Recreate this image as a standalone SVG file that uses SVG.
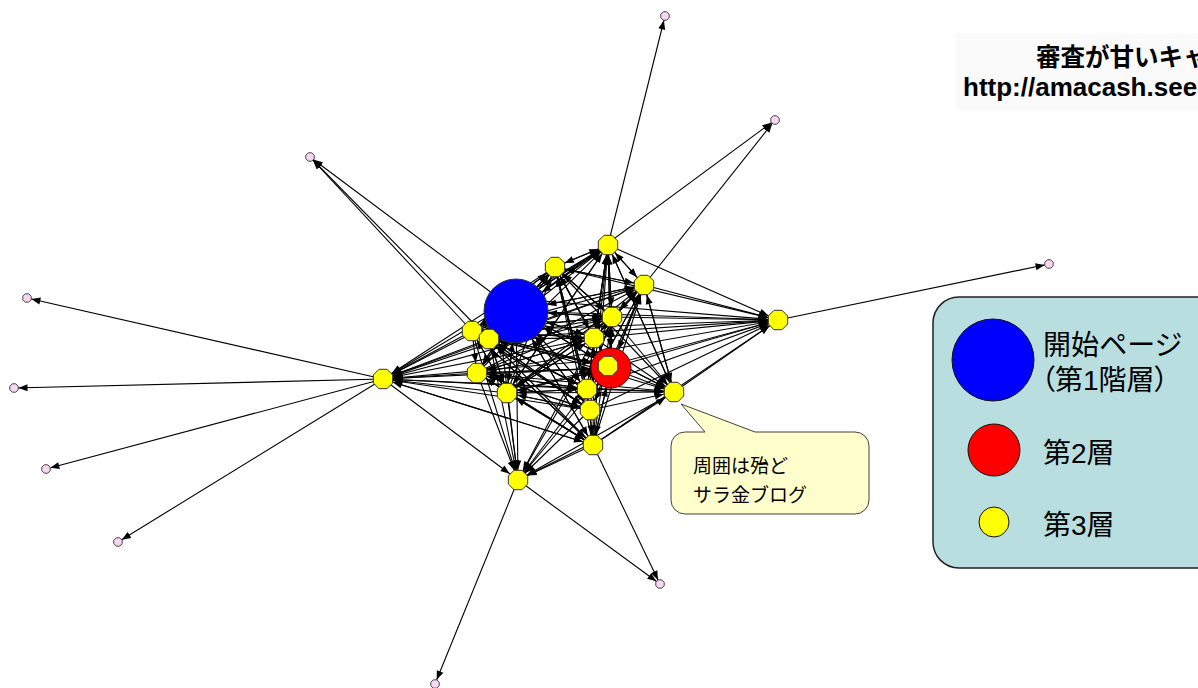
<svg xmlns="http://www.w3.org/2000/svg" width="1198" height="688" viewBox="0 0 1198 688">
<style>
.e line{stroke:#000;stroke-width:1.1}
.tY line{marker-end:url(#aY)}
.tR line{marker-end:url(#aR)}
.tB line{marker-end:url(#aB)}
.tP line{marker-end:url(#aP)}
.yel{fill:#FFFF00;stroke:#333;stroke-width:1}
.pnk{fill:#F6D6F0;stroke:#444;stroke-width:1}
.jp{font-family:"Liberation Sans","Noto Sans CJK JP",sans-serif;fill:#000}
.lg{font-size:28px;font-feature-settings:"palt"}
</style>
<defs>
<polygon id="oct" points="9.7,4 4,9.7 -4,9.7 -9.7,4 -9.7,-4 -4,-9.7 4,-9.7 9.7,-4"/>
<polygon id="poct" points="4.2,1.7 1.7,4.2 -1.7,4.2 -4.2,1.7 -4.2,-1.7 -1.7,-4.2 1.7,-4.2 4.2,-1.7"/>
<marker id="aY" markerUnits="userSpaceOnUse" markerWidth="1" markerHeight="1" orient="auto" overflow="visible"><path d="M-10.5,0 L-19.5,-3.5 L-19.5,3.5 Z" fill="#000"/></marker>
<marker id="aR" markerUnits="userSpaceOnUse" markerWidth="1" markerHeight="1" orient="auto" overflow="visible"><path d="M-20,0 L-29,-3.5 L-29,3.5 Z" fill="#000"/></marker>
<marker id="aB" markerUnits="userSpaceOnUse" markerWidth="1" markerHeight="1" orient="auto" overflow="visible"><path d="M-32,0 L-41,-3.5 L-41,3.5 Z" fill="#000"/></marker>
<marker id="aP" markerUnits="userSpaceOnUse" markerWidth="1" markerHeight="1" orient="auto" overflow="visible"><path d="M-4.5,0 L-13.5,-3.5 L-13.5,3.5 Z" fill="#000"/></marker>
</defs>
<rect width="1198" height="688" fill="#fff"/>
<rect x="956" y="33" width="242" height="77" fill="#fafafa"/>
<g id="title">
<text class="jp" x="1036" y="66" font-size="24.5" font-weight="bold">審査が甘いキャ</text>
<text class="jp" x="963" y="96" font-size="26" font-weight="bold">http://amacash.see</text>
</g>
<g id="connectors" class="e">
<g class="tY">
<!-- into Y10 -->
<line x1="472" y1="331" x2="383" y2="379"/><line x1="489" y1="339" x2="383" y2="379"/><line x1="516" y1="311" x2="383" y2="379"/><line x1="477" y1="373" x2="383" y2="379"/><line x1="507" y1="393" x2="383" y2="379"/><line x1="594" y1="338" x2="383" y2="379"/><line x1="587" y1="389" x2="383" y2="379"/><line x1="590" y1="410" x2="383" y2="379"/><line x1="593" y1="445" x2="383" y2="379"/><line x1="611" y1="368" x2="383" y2="379"/><line x1="612" y1="317" x2="383" y2="379"/><line x1="555" y1="267" x2="383" y2="379"/><line x1="608" y1="245" x2="383" y2="379"/><line x1="644" y1="285" x2="383" y2="379"/><line x1="530" y1="330" x2="383" y2="379"/><line x1="600" y1="360" x2="383" y2="379"/>
<!-- into Y4 -->
<line x1="608" y1="245" x2="778" y2="320"/><line x1="644" y1="285" x2="778" y2="320"/><line x1="516" y1="311" x2="778" y2="320"/><line x1="612" y1="317" x2="778" y2="320"/><line x1="594" y1="338" x2="778" y2="320"/><line x1="611" y1="368" x2="778" y2="320"/><line x1="472" y1="331" x2="778" y2="320"/><line x1="489" y1="339" x2="778" y2="320"/><line x1="477" y1="373" x2="778" y2="320"/><line x1="507" y1="393" x2="778" y2="320"/><line x1="587" y1="389" x2="778" y2="320"/><line x1="590" y1="410" x2="778" y2="320"/><line x1="593" y1="445" x2="778" y2="320"/><line x1="674" y1="392" x2="778" y2="320"/><line x1="555" y1="267" x2="778" y2="320"/><line x1="530" y1="300" x2="778" y2="320"/>
<!-- into Y16 -->
<line x1="608" y1="245" x2="674" y2="392"/><line x1="644" y1="285" x2="674" y2="392"/><line x1="516" y1="311" x2="674" y2="392"/><line x1="612" y1="317" x2="674" y2="392"/><line x1="594" y1="338" x2="674" y2="392"/><line x1="611" y1="368" x2="674" y2="392"/><line x1="472" y1="331" x2="674" y2="392"/><line x1="477" y1="373" x2="674" y2="392"/><line x1="507" y1="393" x2="674" y2="392"/><line x1="587" y1="389" x2="674" y2="392"/><line x1="590" y1="410" x2="674" y2="392"/><line x1="593" y1="445" x2="674" y2="392"/><line x1="555" y1="267" x2="674" y2="392"/><line x1="383" y1="379" x2="674" y2="392"/>
<!-- into Y17 -->
<line x1="472" y1="331" x2="518" y2="480"/><line x1="489" y1="339" x2="518" y2="480"/><line x1="477" y1="373" x2="518" y2="480"/><line x1="507" y1="393" x2="518" y2="480"/><line x1="516" y1="311" x2="518" y2="480"/><line x1="587" y1="389" x2="518" y2="480"/><line x1="590" y1="410" x2="518" y2="480"/><line x1="593" y1="445" x2="518" y2="480"/><line x1="594" y1="338" x2="518" y2="480"/><line x1="611" y1="368" x2="518" y2="480"/><line x1="383" y1="379" x2="518" y2="480"/><line x1="612" y1="317" x2="518" y2="480"/><line x1="674" y1="392" x2="518" y2="480"/><line x1="500" y1="330" x2="518" y2="480"/><line x1="598" y1="440" x2="518" y2="480"/>
<!-- into Y1 -->
<line x1="516" y1="311" x2="608" y2="245"/><line x1="611" y1="368" x2="608" y2="245"/><line x1="555" y1="267" x2="608" y2="245"/><line x1="644" y1="285" x2="608" y2="245"/><line x1="612" y1="317" x2="608" y2="245"/><line x1="472" y1="331" x2="608" y2="245"/><line x1="489" y1="339" x2="608" y2="245"/><line x1="594" y1="338" x2="608" y2="245"/><line x1="477" y1="373" x2="608" y2="245"/><line x1="507" y1="393" x2="608" y2="245"/><line x1="587" y1="389" x2="608" y2="245"/><line x1="590" y1="410" x2="608" y2="245"/><line x1="593" y1="445" x2="608" y2="245"/><line x1="674" y1="392" x2="608" y2="245"/>
<!-- into Y2 -->
<line x1="516" y1="311" x2="555" y2="267"/><line x1="611" y1="368" x2="555" y2="267"/><line x1="608" y1="245" x2="555" y2="267"/><line x1="612" y1="317" x2="555" y2="267"/><line x1="472" y1="331" x2="555" y2="267"/><line x1="594" y1="338" x2="555" y2="267"/><line x1="507" y1="393" x2="555" y2="267"/><line x1="587" y1="389" x2="555" y2="267"/><line x1="590" y1="410" x2="555" y2="267"/><line x1="593" y1="445" x2="555" y2="267"/><line x1="489" y1="339" x2="555" y2="267"/><line x1="477" y1="373" x2="555" y2="267"/><line x1="644" y1="285" x2="555" y2="267"/>
<!-- into Y3 -->
<line x1="516" y1="311" x2="644" y2="285"/><line x1="611" y1="368" x2="644" y2="285"/><line x1="608" y1="245" x2="644" y2="285"/><line x1="555" y1="267" x2="644" y2="285"/><line x1="612" y1="317" x2="644" y2="285"/><line x1="472" y1="331" x2="644" y2="285"/><line x1="489" y1="339" x2="644" y2="285"/><line x1="594" y1="338" x2="644" y2="285"/><line x1="477" y1="373" x2="644" y2="285"/><line x1="507" y1="393" x2="644" y2="285"/><line x1="587" y1="389" x2="644" y2="285"/><line x1="590" y1="410" x2="644" y2="285"/><line x1="593" y1="445" x2="644" y2="285"/><line x1="674" y1="392" x2="644" y2="285"/>
<!-- into Y5 -->
<line x1="516" y1="311" x2="612" y2="317"/><line x1="611" y1="368" x2="612" y2="317"/><line x1="644" y1="285" x2="612" y2="317"/><line x1="489" y1="339" x2="612" y2="317"/><line x1="477" y1="373" x2="612" y2="317"/><line x1="608" y1="245" x2="612" y2="317"/><line x1="555" y1="267" x2="612" y2="317"/><line x1="472" y1="331" x2="612" y2="317"/><line x1="507" y1="393" x2="612" y2="317"/><line x1="587" y1="389" x2="612" y2="317"/><line x1="593" y1="445" x2="612" y2="317"/>
<!-- into Y6 -->
<line x1="516" y1="311" x2="472" y2="331"/><line x1="611" y1="368" x2="472" y2="331"/><line x1="608" y1="245" x2="472" y2="331"/><line x1="612" y1="317" x2="472" y2="331"/><line x1="594" y1="338" x2="472" y2="331"/><line x1="587" y1="389" x2="472" y2="331"/><line x1="590" y1="410" x2="472" y2="331"/><line x1="593" y1="445" x2="472" y2="331"/><line x1="507" y1="393" x2="472" y2="331"/><line x1="555" y1="267" x2="472" y2="331"/>
<!-- into Y7 -->
<line x1="516" y1="311" x2="489" y2="339"/><line x1="611" y1="368" x2="489" y2="339"/><line x1="555" y1="267" x2="489" y2="339"/><line x1="590" y1="410" x2="489" y2="339"/><line x1="593" y1="445" x2="489" y2="339"/><line x1="594" y1="338" x2="489" y2="339"/><line x1="587" y1="389" x2="489" y2="339"/><line x1="507" y1="393" x2="489" y2="339"/>
<!-- into Y8 -->
<line x1="516" y1="311" x2="594" y2="338"/><line x1="611" y1="368" x2="594" y2="338"/><line x1="555" y1="267" x2="594" y2="338"/><line x1="644" y1="285" x2="594" y2="338"/><line x1="472" y1="331" x2="594" y2="338"/><line x1="489" y1="339" x2="594" y2="338"/><line x1="477" y1="373" x2="594" y2="338"/><line x1="507" y1="393" x2="594" y2="338"/><line x1="593" y1="445" x2="594" y2="338"/>
<!-- into Y11 -->
<line x1="516" y1="311" x2="477" y2="373"/><line x1="611" y1="368" x2="477" y2="373"/><line x1="472" y1="331" x2="477" y2="373"/><line x1="587" y1="389" x2="477" y2="373"/><line x1="593" y1="445" x2="477" y2="373"/><line x1="594" y1="338" x2="477" y2="373"/><line x1="590" y1="410" x2="477" y2="373"/><line x1="555" y1="267" x2="477" y2="373"/>
<!-- into Y12 -->
<line x1="516" y1="311" x2="507" y2="393"/><line x1="611" y1="368" x2="507" y2="393"/><line x1="608" y1="245" x2="507" y2="393"/><line x1="612" y1="317" x2="507" y2="393"/><line x1="472" y1="331" x2="507" y2="393"/><line x1="594" y1="338" x2="507" y2="393"/><line x1="489" y1="339" x2="507" y2="393"/><line x1="587" y1="389" x2="507" y2="393"/><line x1="590" y1="410" x2="507" y2="393"/><line x1="593" y1="445" x2="507" y2="393"/>
<!-- into Y13 -->
<line x1="516" y1="311" x2="587" y2="389"/><line x1="611" y1="368" x2="587" y2="389"/><line x1="608" y1="245" x2="587" y2="389"/><line x1="555" y1="267" x2="587" y2="389"/><line x1="644" y1="285" x2="587" y2="389"/><line x1="472" y1="331" x2="587" y2="389"/><line x1="489" y1="339" x2="587" y2="389"/><line x1="477" y1="373" x2="587" y2="389"/><line x1="507" y1="393" x2="587" y2="389"/><line x1="612" y1="317" x2="587" y2="389"/>
<!-- into Y14 -->
<line x1="516" y1="311" x2="590" y2="410"/><line x1="611" y1="368" x2="590" y2="410"/><line x1="489" y1="339" x2="590" y2="410"/><line x1="477" y1="373" x2="590" y2="410"/><line x1="507" y1="393" x2="590" y2="410"/><line x1="472" y1="331" x2="590" y2="410"/><line x1="555" y1="267" x2="590" y2="410"/>
<!-- into Y15 -->
<line x1="516" y1="311" x2="593" y2="445"/><line x1="611" y1="368" x2="593" y2="445"/><line x1="507" y1="393" x2="593" y2="445"/><line x1="587" y1="389" x2="593" y2="445"/><line x1="590" y1="410" x2="593" y2="445"/><line x1="383" y1="379" x2="593" y2="445"/><line x1="477" y1="373" x2="593" y2="445"/><line x1="472" y1="331" x2="593" y2="445"/>
</g>
<g class="tR">
<line x1="516" y1="311" x2="611" y2="368"/><line x1="472" y1="331" x2="611" y2="368"/><line x1="489" y1="339" x2="611" y2="368"/><line x1="477" y1="373" x2="611" y2="368"/><line x1="507" y1="393" x2="611" y2="368"/><line x1="555" y1="267" x2="611" y2="368"/><line x1="608" y1="245" x2="611" y2="368"/><line x1="644" y1="285" x2="611" y2="368"/><line x1="593" y1="445" x2="611" y2="368"/>
</g>
<g class="tB">
<line x1="611" y1="368" x2="516" y2="311"/><line x1="608" y1="245" x2="516" y2="311"/><line x1="644" y1="285" x2="516" y2="311"/><line x1="594" y1="338" x2="516" y2="311"/><line x1="587" y1="389" x2="516" y2="311"/><line x1="590" y1="410" x2="516" y2="311"/><line x1="593" y1="445" x2="516" y2="311"/><line x1="507" y1="393" x2="516" y2="311"/><line x1="477" y1="373" x2="516" y2="311"/><line x1="612" y1="317" x2="516" y2="311"/><line x1="674" y1="392" x2="516" y2="311"/>
</g>
<g class="tP">
<line x1="608" y1="245" x2="665" y2="16"/><line x1="516" y1="311" x2="775" y2="120"/><line x1="644" y1="285" x2="775" y2="120"/><line x1="516" y1="311" x2="310" y2="157"/><line x1="472" y1="331" x2="310" y2="157"/><line x1="489" y1="339" x2="310" y2="157"/><line x1="778" y1="320" x2="1049" y2="264"/><line x1="383" y1="379" x2="27" y2="298"/><line x1="383" y1="379" x2="14" y2="388"/><line x1="383" y1="379" x2="46" y2="469"/><line x1="383" y1="379" x2="118" y2="542"/><line x1="518" y1="480" x2="660" y2="584"/><line x1="593" y1="445" x2="660" y2="584"/><line x1="518" y1="480" x2="435" y2="684"/>
</g>
</g>
<g id="n-blue"><circle cx="516" cy="311" r="32" fill="#0000FF" stroke="#333" stroke-width="1"/></g>
<g id="n-red"><circle cx="611" cy="368" r="20" fill="#FF0000" stroke="#600" stroke-width="1"/></g>
<g id="n-y1"><use href="#oct" x="608" y="245" class="yel"/></g>
<g id="n-y2"><use href="#oct" x="555" y="267" class="yel"/></g>
<g id="n-y3"><use href="#oct" x="644" y="285" class="yel"/></g>
<g id="n-y4"><use href="#oct" x="778" y="320" class="yel"/></g>
<g id="n-y5"><use href="#oct" x="612" y="317" class="yel"/></g>
<g id="n-y6"><use href="#oct" x="472" y="331" class="yel"/></g>
<g id="n-y7"><use href="#oct" x="489" y="339" class="yel"/></g>
<g id="n-y8"><use href="#oct" x="594" y="338" class="yel"/></g>
<g id="n-y9"><use href="#oct" x="608" y="366" class="yel"/></g>
<g id="n-y10"><use href="#oct" x="383" y="379" class="yel"/></g>
<g id="n-y11"><use href="#oct" x="477" y="373" class="yel"/></g>
<g id="n-y12"><use href="#oct" x="507" y="393" class="yel"/></g>
<g id="n-y13"><use href="#oct" x="587" y="389" class="yel"/></g>
<g id="n-y14"><use href="#oct" x="590" y="410" class="yel"/></g>
<g id="n-y15"><use href="#oct" x="593" y="445" class="yel"/></g>
<g id="n-y16"><use href="#oct" x="674" y="392" class="yel"/></g>
<g id="n-y17"><use href="#oct" x="518" y="480" class="yel"/></g>
<g id="n-p1"><use href="#poct" x="665" y="16" class="pnk"/></g>
<g id="n-p2"><use href="#poct" x="775" y="120" class="pnk"/></g>
<g id="n-p3"><use href="#poct" x="310" y="157" class="pnk"/></g>
<g id="n-p4"><use href="#poct" x="1049" y="264" class="pnk"/></g>
<g id="n-p5"><use href="#poct" x="27" y="298" class="pnk"/></g>
<g id="n-p6"><use href="#poct" x="14" y="388" class="pnk"/></g>
<g id="n-p7"><use href="#poct" x="46" y="469" class="pnk"/></g>
<g id="n-p8"><use href="#poct" x="118" y="542" class="pnk"/></g>
<g id="n-p9"><use href="#poct" x="660" y="584" class="pnk"/></g>
<g id="n-p10"><use href="#poct" x="435" y="684" class="pnk"/></g>
<g id="callout">
<path d="M685,432 L705,432 L681,404 L755,432 L855,432 A14,14 0 0 1 869,446 L869,500 A14,14 0 0 1 855,514 L685,514 A14,14 0 0 1 671,500 L671,446 A14,14 0 0 1 685,432 Z" fill="#FFFFCC" stroke="#404040" stroke-width="1"/>
<text class="jp" x="693" y="473" font-size="19">周囲は殆ど</text>
<text class="jp" x="693" y="502" font-size="19">サラ金ブログ</text>
</g>
<g id="legend">
<rect x="933" y="297" width="290" height="271" rx="26" fill="#B8DEE0" stroke="#222" stroke-width="1.5"/>
<circle cx="993" cy="360" r="41" fill="#0000FF" stroke="#111" stroke-width="1"/>
<circle cx="994" cy="450" r="26" fill="#FF0000" stroke="#111" stroke-width="1"/>
<circle cx="994" cy="522" r="15" fill="#FFFF00" stroke="#111" stroke-width="1"/>
<text class="jp lg" x="1043" y="355">開始ページ</text>
<text class="jp lg" x="1041" y="390">（第1階層）</text>
<text class="jp lg" x="1043" y="463">第2層</text>
<text class="jp lg" x="1043" y="535">第3層</text>
</g>
</svg>
